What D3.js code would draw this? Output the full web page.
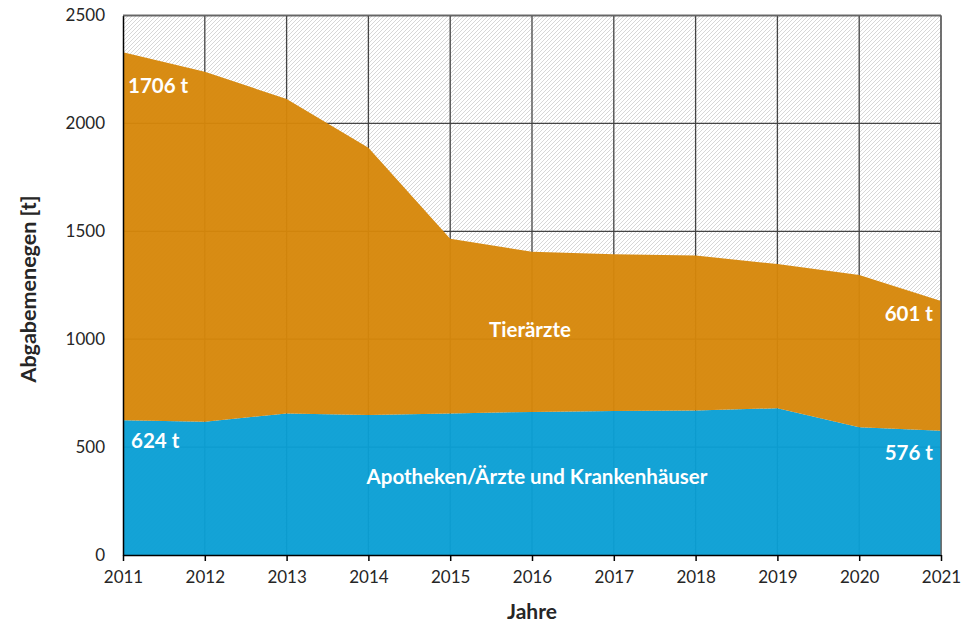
<!DOCTYPE html>
<html><head><meta charset="utf-8">
<script src="https://cdn.jsdelivr.net/npm/d3@7/dist/d3.min.js"></script>
<style>body{margin:0;background:#fff}svg{display:block}text{font-family:Lato,"Open Sans",sans-serif}</style>
</head><body><svg id="c" width="963" height="625"></svg>
<script>
const years = [2011,2012,2013,2014,2015,2016,2017,2018,2019,2020,2021];
const apotheken = [624,618,656,649,656,663,667,670,680,592,576];
const tieraerzte = [1706,1621,1457,1238,810,742,727,718,668,705,601];
const yTicks = [0,500,1000,1500,2000,2500];
const seriesNames = ["Apotheken/Ärzte und Krankenhäuser","Tierärzte"];
const valueLabels = [
  {text:"1706 t", year:2011, value:2178, anchor:"start", dx:5},
  {text:"624 t", year:2011, value:533, anchor:"start", dx:8},
  {text:"601 t", year:2021, value:1121, anchor:"end", dx:-8},
  {text:"576 t", year:2021, value:477, anchor:"end", dx:-8}
];

const svg = d3.select("#c");
const m = {l:123, r:941, t:15.5, b:555};
const x = d3.scaleLinear().domain([2011,2021]).range([m.l,m.r]);
const y = d3.scaleLinear().domain([0,2500]).range([m.b,m.t]);

const defs = svg.append("defs");
const pat = defs.append("pattern").attr("id","hatch").attr("patternUnits","userSpaceOnUse")
  .attr("width",4).attr("height",4);
pat.append("rect").attr("width",4).attr("height",4).attr("fill","#fff");
pat.append("path").attr("d","M-1,1 L1,-1 M0,4 L4,0 M3,5 L5,3").attr("stroke","#d2d2d2").attr("stroke-width",0.9);

svg.append("rect").attr("x",m.l).attr("y",m.t).attr("width",m.r-m.l).attr("height",m.b-m.t).attr("fill","url(#hatch)");

// gridlines
svg.append("g").selectAll("line").data(yTicks.slice(1)).join("line")
  .attr("x1",m.l).attr("x2",m.r).attr("y1",d=>y(d)).attr("y2",d=>y(d))
  .attr("stroke","#444").attr("stroke-width",1.3);
svg.append("g").selectAll("line").data(years.slice(1)).join("line")
  .attr("x1",d=>x(d)).attr("x2",d=>x(d)).attr("y1",m.t).attr("y2",m.b)
  .attr("stroke","#444").attr("stroke-width",1.3);

const data = years.map((yr,i)=>({year:yr, a:apotheken[i], t:tieraerzte[i]}));
const stack = d3.stack().keys(["a","t"])(data);
const colors = ["#0a9fd4","#d6870a"];
const area = d3.area().x(d=>x(d.data.year)).y0(d=>y(d[0])).y1(d=>y(d[1]));
svg.append("g").selectAll("path").data(stack).join("path")
  .attr("d",area).attr("fill",(d,i)=>colors[i]).attr("fill-opacity",0.96);

// axes
const xAxis = d3.axisBottom(x).tickValues(years).tickFormat(d3.format("d")).tickSize(6).tickSizeOuter(0);
const gx = svg.append("g").attr("transform",`translate(0,${m.b})`).call(xAxis);
gx.select(".domain").attr("stroke","#000").attr("stroke-width",1.5);
gx.selectAll(".tick line").attr("stroke","#000").attr("stroke-width",1.5);
gx.selectAll("text").attr("font-size",17).attr("fill","#262626").attr("dy","1.1em").attr("font-family","Lato, sans-serif");

const yAxis = d3.axisLeft(y).tickValues(yTicks).tickFormat(d3.format("d")).tickSize(0).tickPadding(18);
const gy = svg.append("g").attr("transform",`translate(${m.l},0)`).call(yAxis);
gy.select(".domain").attr("stroke","#000").attr("stroke-width",1.5);
gy.selectAll("text").attr("font-size",17).attr("fill","#262626").attr("font-family","Lato, sans-serif");

// top/right border
svg.append("line").attr("x1",m.l).attr("x2",m.r).attr("y1",m.t).attr("y2",m.t).attr("stroke","#666").attr("stroke-width",1.3);
svg.append("line").attr("x1",m.r).attr("x2",m.r).attr("y1",m.t).attr("y2",m.b).attr("stroke","#666").attr("stroke-width",1.3);

// titles
svg.append("text").attr("x",532).attr("y",619).attr("text-anchor","middle")
  .attr("font-size",21).attr("font-weight","bold").attr("fill","#262626").text("Jahre");
svg.append("text").attr("transform",`translate(36,289) rotate(-90)`).attr("text-anchor","middle")
  .attr("font-size",21.5).attr("font-weight","bold").attr("fill","#262626").text("Abgabemenegen [t]");

// series labels
svg.append("text").attr("x",530).attr("y",y(1047)).attr("text-anchor","middle").attr("dominant-baseline","central")
  .attr("font-size",20.5).attr("font-weight","bold").attr("fill","#fff").text(seriesNames[1]);
svg.append("text").attr("x",537).attr("y",y(366)).attr("text-anchor","middle").attr("dominant-baseline","central")
  .attr("font-size",20.5).attr("font-weight","bold").attr("fill","#fff").text(seriesNames[0]);

svg.append("g").selectAll("text").data(valueLabels).join("text")
  .attr("x",d=>x(d.year)+d.dx).attr("y",d=>y(d.value)).attr("text-anchor",d=>d.anchor)
  .attr("dominant-baseline","central").attr("font-size",20.5).attr("font-weight","bold").attr("fill","#fff")
  .text(d=>d.text);
</script></body></html>
